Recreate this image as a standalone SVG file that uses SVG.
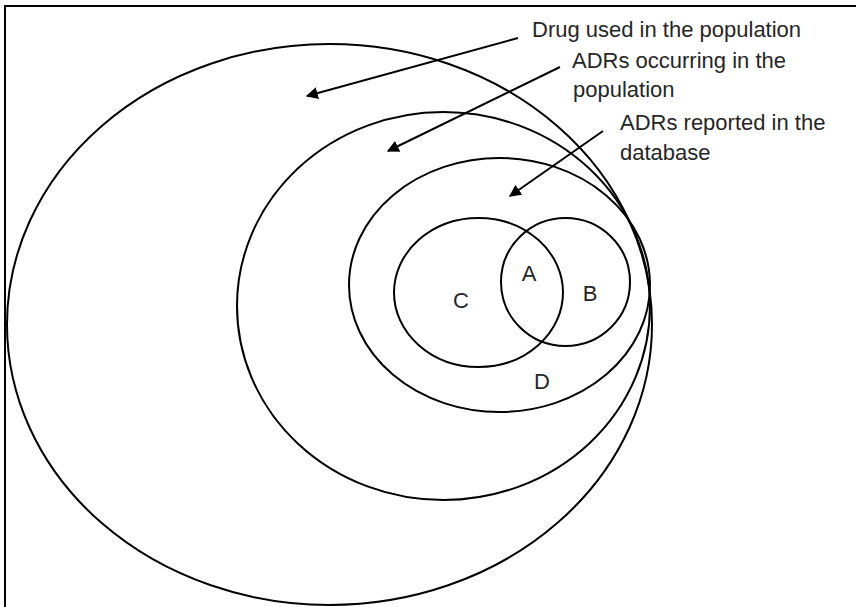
<svg xmlns="http://www.w3.org/2000/svg" width="856" height="607" viewBox="0 0 856 607">
<style>
.sh{fill:none;stroke:#000;stroke-width:2}
.t{font-family:"Liberation Sans",Arial,sans-serif;font-size:22px;fill:#262626}
.c{stroke:#000;stroke-width:2;fill:none}
</style>
<defs>
<marker id="ah" viewBox="0 0 10 10" refX="9" refY="5" markerWidth="6" markerHeight="6" orient="auto" markerUnits="strokeWidth">
<path d="M0,0 L10,5 L0,10 z" fill="#000"/>
</marker>
</defs>
<rect width="856" height="607" fill="#fff"/>
<path class="sh" d="M5,607 V6 H856"/>
<g id="population"><ellipse class="sh" cx="329.5" cy="324.5" rx="322.5" ry="280.5"/></g>
<g id="adrs-occurring"><ellipse class="sh" cx="443.5" cy="306" rx="206.5" ry="194"/></g>
<g id="adrs-reported"><ellipse class="sh" cx="499.5" cy="285" rx="150.5" ry="127"/></g>
<g id="circle-c"><ellipse class="sh" cx="478.5" cy="292.5" rx="84.5" ry="74.5"/></g>
<g id="circle-b"><ellipse class="sh" cx="565.5" cy="282" rx="64.5" ry="64"/></g>
<g id="labels">
<text class="t" x="529" y="281" text-anchor="middle">A</text>
<text class="t" x="590" y="301" text-anchor="middle">B</text>
<text class="t" x="461" y="308" text-anchor="middle">C</text>
<text class="t" x="542" y="389" text-anchor="middle">D</text>
</g>
<g id="captions">
<text class="t" x="532" y="37">Drug used in the population</text>
<text class="t" x="572" y="68">ADRs occurring in the</text>
<text class="t" x="573" y="97">population</text>
<text class="t" x="620" y="130">ADRs reported in the</text>
<text class="t" x="620" y="160">database</text>
</g>
<g id="connectors">
<line class="c" x1="518" y1="38" x2="307" y2="96" marker-end="url(#ah)"/>
<line class="c" x1="560" y1="67" x2="388" y2="151" marker-end="url(#ah)"/>
<line class="c" x1="603" y1="131" x2="510" y2="196" marker-end="url(#ah)"/>
</g>
</svg>
